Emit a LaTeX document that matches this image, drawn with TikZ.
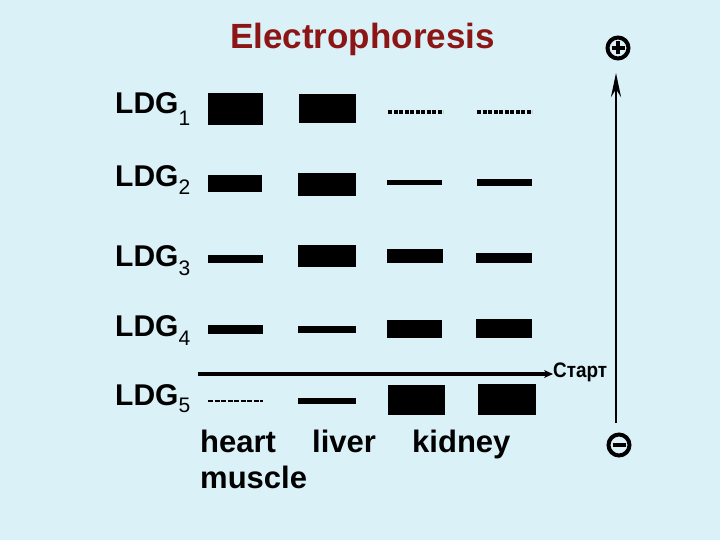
\documentclass[tikz,border=0pt]{standalone}
\usepackage{fontspec}
\setmainfont{Liberation Sans}
\usetikzlibrary{arrows.meta}
\definecolor{bg}{RGB}{218,241,248}
\definecolor{titlered}{RGB}{140,22,22}
\newcommand{\ldgsub}[2]{\raisebox{-#2pt}{\mdseries\fontsize{21}{21}\selectfont #1}}
\tikzset{
  lab/.style={font=\bfseries\fontsize{30}{36}\selectfont, inner sep=0pt, anchor=base west},
  organ/.style={font=\bfseries\fontsize{31}{36}\selectfont, inner sep=0pt, anchor=base west},
  band/.style={fill=black},
  faint/.style={line width=4pt, dash pattern=on 4pt off 1.5pt},
  pole/.style={circle, draw=black, line width=4pt, minimum size=21pt, inner sep=0pt},
}
\begin{document}
\begin{tikzpicture}[x=1pt,y=-1pt]
\fill[bg] (0,0) rectangle (720,540);
\useasboundingbox (0,0) rectangle (720,540);

% title
\node[anchor=base, text=titlered, font=\bfseries\fontsize{35}{40}\selectfont, inner sep=0pt] (title) at (362.5,49) {Electrophoresis};

% row labels
\node[lab] (ldg1) at (115,114) {LDG\ldgsub{1}{12}};
\node[lab] (ldg2) at (115,187) {LDG\ldgsub{2}{8}};
\node[lab] (ldg3) at (115,266) {LDG\ldgsub{3}{9}};
\node[lab] (ldg4) at (115,336) {LDG\ldgsub{4}{9}};
\node[lab] (ldg5) at (115,405) {LDG\ldgsub{5}{7}};

% row 1
\path[band] (208,93) rectangle (263,125);
\path[band] (299,94) rectangle (356,123);
\draw[faint] (388,112) -- (443,112);
\draw[faint] (477,112) -- (532,112);
% row 2
\path[band] (208,175) rectangle (262,192);
\path[band] (298,173) rectangle (356,196);
\path[band] (387,180) rectangle (442,185);
\path[band] (477,179) rectangle (532,186);
% row 3
\path[band] (208,255) rectangle (263,263);
\path[band] (298,245) rectangle (356,267);
\path[band] (387,249) rectangle (443,263);
\path[band] (476,253) rectangle (532,263);
% row 4
\path[band] (208,325) rectangle (263,334);
\path[band] (298,326) rectangle (356,333);
\path[band] (387,320) rectangle (442,338);
\path[band] (476,319) rectangle (532,338);
% row 5
\draw[line width=2.5pt, dash pattern=on 5pt off 1.5pt] (208,401) -- (263,401);
\path[band] (298,398) rectangle (356,404);
\path[band] (388,385) rectangle (445,415);
\path[band] (478,384) rectangle (536,415);

% start line
\node[font=\bfseries\fontsize{21}{24}\selectfont, inner sep=0pt, anchor=west] (start) at (553,372) {\scalebox{0.9}[1]{Старт}};
\coordinate (startleft) at (198,374);
\draw[line width=3.5pt, -{Stealth[length=9pt,width=8pt]}] (startleft) -- (start.west |- startleft);

% tissue labels
\node[organ] (heart) at (200,452) {heart};
\node[organ] (liver) at (312,452) {liver};
\node[organ] (kidney) at (412,452) {kidney};
\node[organ] (muscle) at (200,488) {muscle};

% electrodes
\node[pole] (plus) at (618,48) {};
\draw[line width=3.2pt] ([xshift=-6.5pt]plus.center) -- ([xshift=6.5pt]plus.center);
\draw[line width=3.2pt] ([yshift=-6.5pt]plus.center) -- ([yshift=6.5pt]plus.center);
\node[pole] (minus) at (619,445) {};
\draw[line width=4pt] ([xshift=-6.5pt]minus.center) -- ([xshift=6.5pt]minus.center);

\coordinate (axbot) at (616,423);
\coordinate (axtop) at (616,73);
\draw[line width=2.8pt, -{Stealth[length=24pt,width=10pt]}] (axbot) -- (axtop);
\end{tikzpicture}
\end{document}
